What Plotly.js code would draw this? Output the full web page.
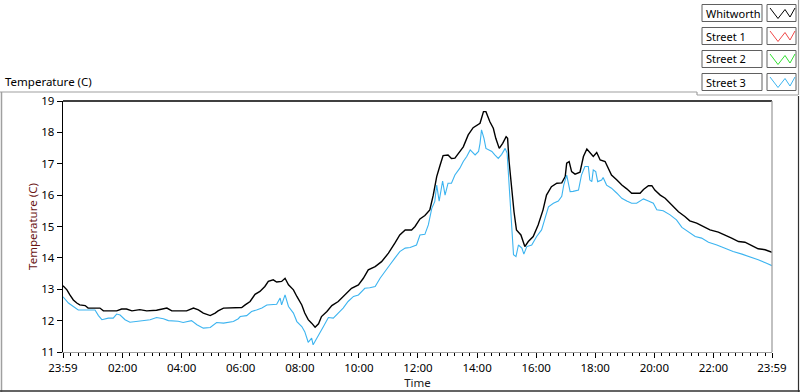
<!DOCTYPE html>
<html>
<head>
<meta charset="utf-8">
<script src="https://cdn.plot.ly/plotly-3.0.1.min.js"></script>
<style>html,body{margin:0;padding:0;background:#fff;}#chart{width:800px;height:392px;}</style>
</head>
<body>
<div id="chart"></div>
<script>
// ---- data (clock times; the first sample is 23:59 of the previous evening) ----
const seriesNames = ["Whitworth", "Street 1", "Street 2", "Street 3"];
const seriesColors = ["#000000", "#f04848", "#30e030", "#3cb4f0"];

const whitworthTime = ["23:59","00:07","00:13","00:20","00:27","00:33","00:44","00:50","01:14","01:21","01:48","01:58","02:08","02:19","02:35","02:49","03:09","03:30","03:40","04:10","04:24","04:34","04:44","04:58","05:08","05:14","05:25","05:59","06:02","06:09","06:19","06:29","06:39","06:49","06:56","07:06","07:13","07:23","07:30","07:37","07:47","07:54","08:04","08:10","08:17","08:24","08:31","08:38","08:44","08:55","09:05","09:18","09:32","09:45","09:59","10:09","10:19","10:33","10:46","11:00","11:13","11:23","11:34","11:47","11:54","12:04","12:14","12:24","12:31","12:38","12:45","12:51","13:01","13:08","13:15","13:25","13:32","13:42","13:52","14:06","14:13","14:18","14:26","14:33","14:38","14:45","14:52","14:59","15:02","15:05","15:10","15:15","15:20","15:29","15:37","15:44","15:54","16:04","16:14","16:21","16:31","16:42","16:52","16:59","17:02","17:07","17:12","17:19","17:29","17:36","17:43","17:51","17:56","18:03","18:10","18:20","18:27","18:33","18:44","18:54","19:04","19:14","19:31","19:38","19:48","19:55","20:01","20:12","20:22","20:35","20:49","21:02","21:12","21:26","21:39","21:53","22:10","22:24","22:37","22:51","23:04","23:18","23:31","23:45","23:59"];
const whitworthTemp = [13.11,12.98,12.82,12.66,12.56,12.50,12.48,12.40,12.40,12.31,12.31,12.37,12.37,12.31,12.35,12.31,12.33,12.40,12.31,12.31,12.40,12.34,12.24,12.16,12.24,12.31,12.40,12.40,12.42,12.50,12.61,12.84,12.93,13.09,13.25,13.30,13.23,13.25,13.35,13.14,12.98,12.77,12.50,12.24,12.03,11.92,11.79,11.90,12.13,12.29,12.48,12.61,12.82,13.03,13.14,13.35,13.62,13.72,13.88,14.15,14.47,14.73,14.89,14.89,15.00,15.24,15.35,15.53,16.00,16.59,16.96,17.26,17.28,17.17,17.18,17.39,17.54,17.92,18.15,18.29,18.66,18.66,18.34,18.13,17.81,17.49,17.65,17.86,17.81,17.07,16.22,15.47,14.89,14.73,14.36,14.52,14.68,15.05,15.53,16.00,16.27,16.38,16.39,16.59,17.02,17.07,16.75,16.67,16.73,17.23,17.47,17.33,17.23,17.36,17.12,17.07,16.86,16.64,16.48,16.32,16.20,16.06,16.06,16.18,16.30,16.30,16.16,16.00,15.90,15.69,15.47,15.32,15.18,15.11,15.00,14.89,14.82,14.73,14.63,14.52,14.50,14.39,14.29,14.26,14.18];

const street1Time = [];
const street1Temp = [];
const street2Time = [];
const street2Temp = [];

const street3Time = ["23:59","00:10","00:20","00:30","01:04","01:11","01:18","01:31","01:41","01:48","01:55","02:05","02:15","02:35","02:56","03:09","03:23","03:33","03:53","04:03","04:20","04:31","04:44","04:58","05:11","05:25","05:45","05:55","05:59","06:12","06:22","06:32","06:43","06:53","07:03","07:13","07:20","07:23","07:30","07:37","07:47","07:54","08:04","08:10","08:17","08:24","08:27","08:34","08:41","08:48","08:58","09:08","09:18","09:28","09:38","09:49","09:59","10:12","10:22","10:33","10:43","10:53","11:03","11:13","11:23","11:34","11:44","11:57","12:04","12:14","12:21","12:28","12:34","12:38","12:43","12:50","12:55","13:01","13:08","13:15","13:25","13:32","13:39","13:46","13:56","14:03","14:06","14:09","14:14","14:18","14:23","14:30","14:36","14:43","14:50","14:57","15:01","15:04","15:07","15:10","15:14","15:19","15:24","15:31","15:35","15:41","15:51","16:01","16:11","16:18","16:25","16:35","16:45","16:52","16:56","17:02","17:05","17:09","17:15","17:26","17:32","17:39","17:46","17:49","17:53","17:56","18:01","18:05","18:13","18:16","18:23","18:33","18:44","18:54","19:04","19:14","19:24","19:31","19:38","19:48","19:58","20:05","20:18","20:32","20:45","20:56","21:09","21:23","21:36","21:50","22:07","22:24","22:40","22:58","23:14","23:31","23:48","23:59"];
const street3Temp = [12.76,12.56,12.45,12.34,12.34,12.16,12.03,12.08,12.08,12.21,12.18,12.03,11.95,12.00,12.03,12.10,12.06,12.00,11.98,11.94,12.00,11.87,11.76,11.78,11.94,11.92,11.97,12.06,12.13,12.16,12.29,12.34,12.40,12.50,12.52,12.52,12.72,12.50,12.82,12.45,12.24,11.97,11.81,11.65,11.31,11.44,11.23,11.44,11.65,11.81,12.10,12.08,12.24,12.40,12.61,12.77,12.82,13.03,13.05,13.09,13.35,13.58,13.78,13.99,14.20,14.31,14.33,14.41,14.73,14.75,15.05,15.58,15.79,16.32,15.81,16.45,16.00,16.38,16.38,16.64,16.86,17.07,17.23,17.44,17.28,17.39,17.65,18.08,17.81,17.49,17.44,17.39,17.28,17.17,17.30,17.49,17.34,16.64,15.69,14.94,14.10,14.04,14.41,14.31,14.12,14.36,14.41,14.68,14.89,15.26,15.63,15.74,15.81,15.96,16.32,16.64,16.43,16.11,16.12,16.16,16.64,16.91,16.91,16.48,16.43,16.80,16.75,16.43,16.48,16.56,16.32,16.22,16.06,15.90,15.81,15.74,15.74,15.81,15.88,15.81,15.74,15.53,15.50,15.37,15.21,14.97,14.82,14.68,14.63,14.50,14.41,14.29,14.20,14.12,14.04,13.94,13.83,13.75];

const tickTimes = ["23:59","02:00","04:00","06:00","08:00","10:00","12:00","14:00","16:00","18:00","20:00","22:00","23:59"];

// ---- helpers ----
const DAY0 = "2000-01-01 ", DAY1 = "2000-01-02 ";
function toDates(times){ return times.map((t,i)=> (i===0 && t==="23:59" ? DAY0 : DAY1) + t); }

const allTimes = [whitworthTime, street1Time, street2Time, street3Time];
const allTemps = [whitworthTemp, street1Temp, street2Temp, street3Temp];

const traces = seriesNames.map((n,i)=>({
  type: "scatter", mode: "lines", name: n,
  x: toDates(allTimes[i]), y: allTemps[i],
  line: {color: seriesColors[i], width: i===0 ? 1.4 : 1.1},
  showlegend: false, hoverinfo: "skip"
}));

// plot area in pixels
const L = 63, R = 772, T = 101, B = 352, W = 800, H = 392;
const px = x => (x - L) / (R - L);
const py = y => (B - y) / (B - T);

const shapes = [];
const annotations = [];
function line(x0,y0,x1,y1,color,w){ shapes.push({type:"line",xref:"paper",yref:"paper",x0:px(x0),y0:py(y0),x1:px(x1),y1:py(y1),line:{color:color,width:w||1}}); }

// plot frame: top dark, right light
line(L, T, R, T, "#000000", 1.3);
line(R, T, R, B, "#a0a0a0", 1.3);

// panel edges
line(0, 92, 697, 92, "#a0a0a0", 1.2);
line(697, 92, 697, 95, "#a0a0a0", 1.2);
line(697, 95, 798, 95, "#a0a0a0", 1.2);
line(1.5, 92, 1.5, 392, "#a0a0a0", 1.5);
line(798.5, 0, 798.5, 95, "#a0a0a0", 1.2);
line(798.5, 96, 798.5, 392, "#303030", 1.2);
line(0, 391, 800, 391, "#303030", 1.5);

// custom legend
const rowTop = [4.5, 27.5, 50.5, 73.5], rowH = 17;
seriesNames.forEach((n,i)=>{
  const y0 = rowTop[i], y1 = y0 + rowH;
  shapes.push({type:"rect",xref:"paper",yref:"paper",x0:px(702),x1:px(762),y0:py(y1),y1:py(y0),line:{color:"#606060",width:1},fillcolor:"#ffffff"});
  shapes.push({type:"rect",xref:"paper",yref:"paper",x0:px(767),x1:px(796),y0:py(y1),y1:py(y0),line:{color:"#606060",width:1},fillcolor:"#ffffff"});
  const pts = [[770,y0+3.5],[778,y0+14],[785,y0+5],[790,y0+12.5],[795,y0+3.5]];
  let p = "M" + pts.map(q=>px(q[0])+","+py(q[1])).join(" L");
  shapes.push({type:"path",xref:"paper",yref:"paper",path:p,line:{color:seriesColors[i],width:1}});
  annotations.push({xref:"paper",yref:"paper",x:px(703.5),y:py(y0+rowH/2),xanchor:"left",yanchor:"middle",showarrow:false,text:n,font:{family:"Noto Sans, sans-serif",size:11,color:"#000"}});
});

const layout = {
  width: W, height: H,
  margin: {l: L, r: W - R, t: T, b: H - B, pad: 0},
  paper_bgcolor: "#ffffff", plot_bgcolor: "#ffffff",
  font: {family: "Noto Sans, sans-serif", size: 11.5, color: "#000"},
  title: {text: "Temperature (C)", xref: "container", yref: "container", x: 5/W, xanchor: "left", y: 1 - 82/H, yanchor: "middle", font: {size: 11.5, color: "#000"}},
  xaxis: {
    type: "date", range: [DAY0 + "23:59", DAY1 + "23:59"],
    tickmode: "array", tickvals: toDates(tickTimes), ticktext: tickTimes,
    ticks: "outside", ticklen: 5, tickcolor: "#000", tickwidth: 1,
    minor: {ticks: "outside", ticklen: 3, tickcolor: "#000", dtick: 900000, tick0: DAY1 + "00:00", showgrid: false},
    showgrid: false, zeroline: false, showline: true, linecolor: "#a0a0a0", linewidth: 1.3,
    title: {text: "Time", standoff: 2, font: {size: 11.5, color: "#1a1a1a"}},
    automargin: false, fixedrange: true
  },
  yaxis: {
    range: [11, 19], dtick: 1, tick0: 11,
    ticks: "outside", ticklen: 5, tickcolor: "#000", tickwidth: 1,
    showgrid: false, zeroline: false, showline: true, linecolor: "#000", linewidth: 1.3,
    title: {text: "Temperature (C)", standoff: 1, font: {size: 11.5, color: "#6a1414"}},
    automargin: false, fixedrange: true
  },
  showlegend: false,
  shapes: shapes, annotations: annotations
};

Plotly.newPlot("chart", traces, layout, {staticPlot: true, displayModeBar: false});
</script>
</body>
</html>
